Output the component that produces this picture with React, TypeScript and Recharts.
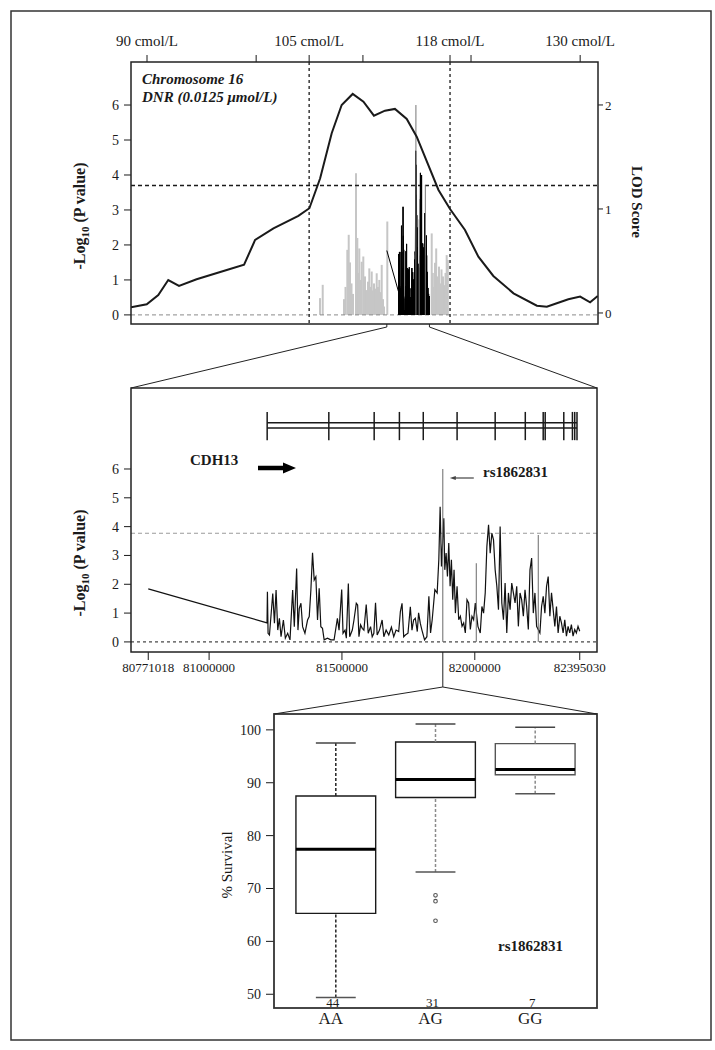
import React from 'react';
import {
  ComposedChart,
  Line,
  Scatter,
  XAxis,
  YAxis,
  ReferenceLine,
  ReferenceArea,
} from 'recharts';

const SERIF = "'Liberation Serif', 'Times New Roman', serif";
const INK = '#1a1a1a';

// ---- top panel: chromosome 16 scan (positions in bp) ----
const lodPos = [
  71020000, 71620000, 72060000, 72440000, 72850000, 73520000, 74670000, 75330000, 75750000,
  76450000, 77400000, 77820000, 78230000, 78670000, 79050000, 79470000, 79880000, 80280000,
  80700000, 81080000, 81530000, 81910000, 82740000, 83180000, 83750000, 84260000, 84830000,
  85600000, 86490000, 86870000, 87250000, 87690000, 88140000, 88520000, 88810000,
];
const lodScore = [
  0.055, 0.084, 0.173, 0.317, 0.26, 0.324, 0.413, 0.464, 0.702,
  0.814, 0.933, 1.007, 1.295, 1.728, 2.0, 2.106, 2.032, 1.897,
  1.945, 1.962, 1.865, 1.695, 1.183, 1.0, 0.798, 0.541, 0.356,
  0.189, 0.07, 0.06, 0.093, 0.132, 0.157, 0.103, 0.163,
];

// flanking SNPs outside CDH13 (grey bars)
const grayPos = [
  78224000, 78327000, 79139000, 79196000, 79265000, 79318000, 79367000, 79425000, 79482000,
  79596000, 79646000, 79684000, 79722000, 79768000, 79814000, 79875000, 79939000, 80004000,
  80053000, 80103000, 80149000, 80195000, 80244000, 80282000, 80332000, 80385000, 80434000,
  80484000, 80530000, 80576000, 80625000, 80663000, 80789000, 82482000, 82524000, 82569000,
  82608000, 82653000, 82703000, 82760000, 82806000, 82855000, 82912000, 82962000, 83008000,
  83053000, 83095000,
];
const grayP = [
  0.48, 0.86, 0.45, 0.8, 1.86, 2.29, 1.5, 0.9, 0.6,
  4.05, 2.2, 1.2, 1.9, 1.0, 1.52, 1.67, 1.1, 0.71,
  0.95, 1.33, 0.8, 1.24, 0.7, 0.9, 0.75, 1.19, 0.8,
  1.0, 0.65, 1.43, 0.45, 0.24, 2.67, 2.33, 1.2, 0.8,
  1.49, 1.9, 1.1, 1.38, 0.9, 1.3, 1.1, 0.85, 1.2,
  1.71, 1.57,
];

const topTicks = [71630000, 75790000, 77810000, 79860000, 83180000, 83980000, 88140000];
const topTickLabels = ['90 cmol/L', '', '105 cmol/L', '', '118 cmol/L', '', '130 cmol/L'];
const flankPos = [77810000, 83180000];

// ---- middle panel: CDH13 region ----
const snpPos = [
  80771018, 81218000, 81219500, 81222000, 81227200, 81239600, 81245900, 81252100, 81258400, 81264600,
  81270800, 81279600, 81287000, 81295800, 81304500, 81314500, 81320700, 81329500, 81334500, 81339400,
  81345700, 81351900, 81360700, 81370600, 81376900, 81383100, 81389300, 81395600, 81401800, 81408100,
  81414300, 81420500, 81426800, 81433000, 81445500, 81458000, 81470400, 81482900, 81489100, 81499100,
  81504100, 81511600, 81516600, 81524100, 81529100, 81539000, 81545300, 81554000, 81559000, 81564000,
  81570200, 81576500, 81582700, 81591400, 81598900, 81607700, 81613900, 81620100, 81626400, 81632600,
  81641300, 81651300, 81657600, 81666300, 81676300, 81686200, 81695000, 81703700, 81713700, 81719900,
  81726200, 81732400, 81738600, 81748600, 81757400, 81763600, 81769800, 81776100, 81783600, 81788500,
  81794800, 81801000, 81811000, 81819700, 81827200, 81833500, 81839700, 81849700, 81858400, 81864600,
  81869600, 81874600, 81883400, 81887100, 81892100, 81897100, 81902100, 81907100, 81912000, 81917000,
  81922000, 81927000, 81933300, 81939500, 81945700, 81952000, 81958200, 81964400, 81970700, 81976900,
  81983200, 81989400, 81995600, 82001900, 82011800, 82020600, 82026800, 82033100, 82039300, 82045500,
  82051800, 82058000, 82064200, 82070500, 82076700, 82083000, 82089200, 82095400, 82101700, 82107900,
  82114100, 82120400, 82126600, 82132900, 82139100, 82145300, 82151600, 82157800, 82164000, 82170300,
  82176500, 82182800, 82189000, 82195200, 82201500, 82207700, 82214000, 82220200, 82226400, 82232700,
  82245100, 82251400, 82257600, 82263800, 82270100, 82276300, 82282600, 82288800, 82295000, 82301300,
  82307500, 82313700, 82320000, 82326200, 82332500, 82338700, 82344900, 82351200, 82357400, 82363600,
  82369900, 82376100, 82382300, 82388600, 82395030,
];
const snpP = [
  1.84, 0.66, 1.74, 0.3, 0.24, 1.68, 0.65, 1.8, 0.41, 0.82,
  0.18, 0.76, 0.13, 0.3, 0.07, 1.8, 0.53, 2.55, 0.41, 1.16,
  1.34, 0.53, 0.3, 0.76, 0.88, 1.8, 3.09, 2.15, 2.26, 0.76,
  1.86, 0.53, 0.47, 0.07, 0.13, 0.07, 0.07, 0.82, 0.41, 1.82,
  0.3, 0.41, 0.13, 2.03, 0.18, 0.41, 0.76, 1.34, 1.28, 0.18,
  0.59, 0.47, 0.41, 1.3, 0.3, 0.53, 0.18, 0.3, 1.36, 0.24,
  0.41, 0.76, 0.18, 0.41, 0.24, 0.51, 0.18, 0.41, 0.36, 1.05,
  1.34, 0.18, 0.24, 0.3, 1.22, 0.41, 0.76, 0.82, 0.36, 1.01,
  0.65, 0.41, 0.07, 0.18, 1.58, 0.31, 0.77, 1.81, 1.7, 2.85,
  4.69, 2.62, 4.29, 2.5, 3.08, 2.27, 3.43, 1.93, 2.85, 1.46,
  2.5, 1.0, 1.93, 0.77, 0.89, 0.54, 0.66, 0.31, 1.46, 1.35,
  0.43, 0.89, 0.77, 1.35, 0.54, 0.31, 1.23, 1.0, 1.7, 3.31,
  4.06, 3.08, 3.77, 3.54, 2.5, 1.93, 1.12, 4.0, 1.35, 0.77,
  2.04, 0.31, 1.7, 1.12, 2.04, 1.7, 1.35, 1.93, 0.54, 1.7,
  1.46, 0.89, 1.81, 1.23, 0.43, 2.5, 2.91, 1.0, 1.7, 0.54,
  0.31, 1.23, 1.58, 1.0, 1.93, 2.27, 0.89, 1.7, 1.12, 0.54,
  1.23, 0.31, 0.89, 0.66, 0.31, 0.77, 0.2, 0.54, 0.31, 0.6,
  0.2, 0.43, 0.31, 0.54, 0.37,
];
// single grey spikes, first one is rs1862831
const spikePos = [81879600, 82005600, 82238900];
const spikeP = [6.0, 2.73, 3.71];
const exonPos = [
  81218563, 81450600, 81621300, 81716300, 81806100, 81933400, 82076700,
  82190100, 82257500, 82265000, 82335000, 82367500, 82376100, 82384700,
];
const midTicks = [80771018, 81000000, 81500000, 82000000, 82395030];

// ---- bottom panel: % survival by rs1862831 genotype ----
const genotypes = ['AA', 'AG', 'GG'];
const counts = [44, 31, 7];
const whiskerLow = [49.4, 73.1, 87.9];
const q1 = [65.3, 87.2, 91.5];
const median = [77.4, 90.6, 92.5];
const q3 = [87.5, 97.7, 97.4];
const whiskerHigh = [97.5, 101.1, 100.5];
const outlierGroup = [2, 2, 2];
const outlierVal = [68.7, 67.6, 63.9];

// plot boxes (pixels) and domains
const TOP = { left: 131, top: 62, w: 467, h: 262, x: [71020000, 88820000], y: [-0.26, 7.23], lod: [-0.106, 2.413] };
const MID = { left: 131, top: 388, w: 466, h: 264, x: [80706058, 82459990], y: [-0.35, 8.81] };
const BOX = { left: 274, top: 714, w: 323, h: 294, x: [0.38, 3.62], y: [47.4, 103.0] };

const sx = (P: { left: number; w: number; x: number[] }, v: number) =>
  P.left + ((v - P.x[0]) / (P.x[1] - P.x[0])) * P.w;

const lodData = lodPos.map((pos, i) => ({ pos, lod: lodScore[i] }));
const snpData = snpPos.map((pos, i) => ({ pos, p: snpP[i] }));
const outliers = outlierGroup.map((g, i) => ({ g, v: outlierVal[i] }));

const tickFont = (size: number) => ({ fontSize: size, fill: INK, fontFamily: SERIF });

const PTitle = ({ x, y }: { x: number; y: number }) => (
  <text
    transform={`translate(${x},${y}) rotate(-90)`}
    textAnchor="middle"
    fontFamily={SERIF}
    fontWeight="bold"
    fontSize={16}
    fill={INK}
  >
    -Log<tspan fontSize={11} dy={4}>10</tspan>
    <tspan dy={-4}>{' (P value)'}</tspan>
  </text>
);

const GenoTick = (props: any) => {
  const { x, y, payload } = props;
  const i = Math.round(payload.value) - 1;
  return (
    <g fontFamily={SERIF} fill={INK}>
      <text x={x - 3} y={y - 1} textAnchor="middle" fontSize={13}>
        {counts[i]}
      </text>
      <text x={x - 5} y={y + 16} textAnchor="middle" fontSize={17}>
        {genotypes[i]}
      </text>
    </g>
  );
};

function TopPanel() {
  return (
    <ComposedChart
      width={715}
      height={340}
      margin={{ top: TOP.top - 30, right: 715 - TOP.left - TOP.w - 30, bottom: 340 - TOP.top - TOP.h, left: TOP.left - 40 }}
    >
      <XAxis
        dataKey="pos"
        type="number"
        orientation="top"
        domain={TOP.x}
        allowDataOverflow
        ticks={topTicks}
        interval={0}
        tickFormatter={(v: number) => topTickLabels[topTicks.indexOf(v)] ?? ''}
        height={30}
        axisLine={false}
        tickSize={7}
        tickMargin={9}
        stroke={INK}
        tick={tickFont(15)}
      />
      <YAxis
        yAxisId="p"
        type="number"
        domain={TOP.y}
        allowDataOverflow
        ticks={[0, 1, 2, 3, 4, 5, 6]}
        interval={0}
        width={40}
        axisLine={false}
        tickSize={7}
        tickMargin={5}
        stroke={INK}
        tick={tickFont(14)}
      />
      <YAxis
        yAxisId="lod"
        orientation="right"
        type="number"
        domain={TOP.lod}
        allowDataOverflow
        ticks={[0, 1, 2]}
        interval={0}
        width={30}
        axisLine={false}
        tickSize={5}
        tickMargin={2}
        stroke={INK}
        tick={tickFont(13)}
      />
      {grayPos.map((x, i) => (
        <ReferenceLine
          key={`g${i}`}
          yAxisId="p"
          segment={[{ x, y: 0 }, { x, y: grayP[i] }]}
          stroke="#c6c6c6"
          strokeWidth={2}
        />
      ))}
      <ReferenceLine yAxisId="p" y={0} stroke="#8a8a8a" strokeDasharray="4 3" />
      <ReferenceLine yAxisId="p" y={3.7} stroke={INK} strokeDasharray="4 3" strokeWidth={1.3} />
      {flankPos.map((x) => (
        <ReferenceLine key={`f${x}`} yAxisId="p" x={x} stroke={INK} strokeDasharray="3 3" strokeWidth={1.3} />
      ))}
      {/* CDH13 SNPs squeezed into the chromosome view as h-type bars */}
      {snpPos.slice(1).map((x, i) => (
        <ReferenceLine
          key={`b${i}`}
          yAxisId="p"
          segment={[{ x, y: 0 }, { x, y: snpP[i + 1] }]}
          stroke="#000"
          strokeWidth={1}
        />
      ))}
      <Line
        yAxisId="p"
        data={snpData}
        dataKey="p"
        stroke="#000"
        strokeWidth={1}
        dot={false}
        activeDot={false}
        isAnimationActive={false}
      />
      {spikePos.map((x, i) => (
        <ReferenceLine key={`s${i}`} yAxisId="p" segment={[{ x, y: 0 }, { x, y: spikeP[i] }]} stroke="#777" strokeWidth={1} />
      ))}
      <Line
        yAxisId="lod"
        data={lodData}
        dataKey="lod"
        stroke={INK}
        strokeWidth={2}
        dot={false}
        activeDot={false}
        isAnimationActive={false}
      />
    </ComposedChart>
  );
}

function MiddlePanel() {
  const g0 = exonPos[0];
  const g1 = exonPos[exonPos.length - 1];
  return (
    <ComposedChart
      width={715}
      height={310}
      margin={{ top: MID.top - 370, right: 715 - MID.left - MID.w, bottom: 680 - MID.top - MID.h - 28, left: MID.left - 40 }}
    >
      <XAxis
        dataKey="pos"
        type="number"
        domain={MID.x}
        allowDataOverflow
        ticks={midTicks}
        interval={0}
        height={28}
        axisLine={false}
        tickSize={8}
        tickMargin={3}
        stroke={INK}
        tick={tickFont(13)}
      />
      <YAxis
        type="number"
        domain={MID.y}
        allowDataOverflow
        ticks={[0, 1, 2, 3, 4, 5, 6]}
        interval={0}
        width={40}
        axisLine={false}
        tickSize={7}
        tickMargin={5}
        stroke={INK}
        tick={tickFont(14)}
      />
      <ReferenceLine y={3.77} stroke="#9a9a9a" strokeDasharray="4 3" />
      <ReferenceLine y={0} stroke={INK} strokeDasharray="3 3" />
      <ReferenceLine segment={[{ x: g0, y: 7.6 }, { x: g1, y: 7.6 }]} stroke={INK} strokeWidth={1.5} />
      <ReferenceLine segment={[{ x: g0, y: 7.42 }, { x: g1, y: 7.42 }]} stroke={INK} strokeWidth={1.5} />
      {exonPos.map((x, i) => (
        <ReferenceLine key={`e${i}`} segment={[{ x, y: 7.0 }, { x, y: 7.98 }]} stroke={INK} strokeWidth={1.5} />
      ))}
      <Line
        data={snpData}
        dataKey="p"
        stroke="#111"
        strokeWidth={1.2}
        dot={false}
        activeDot={false}
        isAnimationActive={false}
      />
      {spikePos.map((x, i) => (
        <ReferenceLine key={`s${i}`} segment={[{ x, y: 0 }, { x, y: spikeP[i] }]} stroke="#6a6a6a" strokeWidth={1} />
      ))}
    </ComposedChart>
  );
}

function BoxPanel() {
  const HALF = 0.4;
  const CAP = 0.2;
  return (
    <ComposedChart
      width={715}
      height={350}
      margin={{ top: BOX.top - 690, right: 715 - BOX.left - BOX.w, bottom: 1040 - BOX.top - BOX.h - 30, left: BOX.left - 40 }}
    >
      <XAxis
        dataKey="g"
        type="number"
        domain={BOX.x}
        allowDataOverflow
        ticks={[1, 2, 3]}
        interval={0}
        height={30}
        axisLine={false}
        tickLine={false}
        tickSize={0}
        tickMargin={0}
        tick={(p: any) => <GenoTick {...p} />}
      />
      <YAxis
        type="number"
        domain={BOX.y}
        allowDataOverflow
        ticks={[50, 60, 70, 80, 90, 100]}
        interval={0}
        width={40}
        axisLine={false}
        tickSize={8}
        tickMargin={5}
        stroke={INK}
        tick={tickFont(14)}
      />
      {genotypes.map((name, i) => {
        const g = i + 1;
        const wc = i === 0 ? '#222' : '#8a8a8a';
        return (
          <React.Fragment key={name}>
            <ReferenceLine segment={[{ x: g, y: whiskerLow[i] }, { x: g, y: q1[i] }]} stroke={wc} strokeWidth={1.5} strokeDasharray="3 2" />
            <ReferenceLine segment={[{ x: g, y: q3[i] }, { x: g, y: whiskerHigh[i] }]} stroke={wc} strokeWidth={1.5} strokeDasharray="3 2" />
            <ReferenceLine segment={[{ x: g - CAP, y: whiskerLow[i] }, { x: g + CAP, y: whiskerLow[i] }]} stroke="#555" strokeWidth={1.5} />
            <ReferenceLine segment={[{ x: g - CAP, y: whiskerHigh[i] }, { x: g + CAP, y: whiskerHigh[i] }]} stroke="#444" strokeWidth={1.5} />
            <ReferenceArea
              x1={g - HALF}
              x2={g + HALF}
              y1={q1[i]}
              y2={q3[i]}
              fill="#fff"
              fillOpacity={1}
              stroke={i === 2 ? '#555' : INK}
              strokeWidth={1.4}
            />
            <ReferenceLine segment={[{ x: g - HALF, y: median[i] }, { x: g + HALF, y: median[i] }]} stroke="#000" strokeWidth={3} />
          </React.Fragment>
        );
      })}
      <Scatter
        data={outliers}
        dataKey="v"
        isAnimationActive={false}
        shape={(p: any) => <circle cx={p.cx} cy={p.cy} r={1.8} fill="none" stroke="#555" strokeWidth={1.1} />}
      />
    </ComposedChart>
  );
}

export default function App() {
  const a = sx(TOP, snpPos[0]);
  const b = sx(TOP, snpPos[snpPos.length - 1]);
  const topBottom = TOP.top + TOP.h;
  const rsX = sx(MID, spikePos[0]);
  const midBottom = MID.top + MID.h;
  const apexY = 687;
  return (
    <div style={{ position: 'absolute', left: 0, top: 0, width: 715, height: 1050, background: '#fff', fontFamily: SERIF }}>
      <div style={{ position: 'absolute', left: 0, top: 0 }}>
        <TopPanel />
      </div>
      <div style={{ position: 'absolute', left: 0, top: 370 }}>
        <MiddlePanel />
      </div>
      <div style={{ position: 'absolute', left: 0, top: 690 }}>
        <BoxPanel />
      </div>
      <svg width={715} height={1050} style={{ position: 'absolute', left: 0, top: 0, pointerEvents: 'none' }}>
        <rect x={11} y={11} width={700} height={1029} fill="none" stroke="#333" strokeWidth={1.5} />
        <rect x={TOP.left} y={TOP.top} width={TOP.w} height={TOP.h} fill="none" stroke="#222" strokeWidth={1.5} />
        <rect x={MID.left} y={MID.top} width={MID.w} height={MID.h} fill="none" stroke="#222" strokeWidth={1.5} />
        <rect x={BOX.left} y={BOX.top} width={BOX.w} height={BOX.h} fill="none" stroke="#333" strokeWidth={1.8} />

        {/* zoom connectors */}
        <polyline points={`${a},${topBottom} ${a},${topBottom + 3} ${MID.left},${MID.top}`} fill="none" stroke="#222" strokeWidth={1} />
        <polyline points={`${b},${topBottom} ${b},${topBottom + 3} ${MID.left + MID.w},${MID.top}`} fill="none" stroke="#222" strokeWidth={1} />
        <polyline points={`${BOX.left},${BOX.top} ${rsX},${apexY} ${BOX.left + BOX.w},${BOX.top}`} fill="none" stroke="#222" strokeWidth={1} />
        <line x1={rsX} y1={midBottom} x2={rsX} y2={apexY} stroke="#222" strokeWidth={1} />

        {/* top panel annotations */}
        <g fontFamily={SERIF} fontWeight="bold" fontStyle="italic" fontSize={15} fill={INK}>
          <text x={142} y={84}>Chromosome 16</text>
          <text x={142} y={102}>DNR (0.0125 μmol/L)</text>
        </g>
        <PTitle x={85} y={216} />
        <text
          transform="translate(632,202) rotate(90)"
          textAnchor="middle"
          fontFamily={SERIF}
          fontWeight="bold"
          fontSize={15}
          fill={INK}
        >
          LOD Score
        </text>

        {/* middle panel annotations */}
        <PTitle x={85} y={563} />
        <text x={190} y={465} fontFamily={SERIF} fontWeight="bold" fontSize={15} fill={INK}>
          CDH13
        </text>
        <path d="M258,465.8 L283,465.8 L283,462.5 L296,468 L283,473.5 L283,470.2 L258,470.2 Z" fill="#000" />
        <text x={483} y={477} fontFamily={SERIF} fontWeight="bold" fontSize={15} fill={INK}>
          rs1862831
        </text>
        <line x1={rsX + 12} y1={478} x2={rsX + 31} y2={478} stroke="#444" strokeWidth={1.2} />
        <path d={`M${rsX + 7},478 L${rsX + 13},476 L${rsX + 13},480 Z`} fill="#444" />

        {/* box panel annotations */}
        <text
          transform="translate(232,865) rotate(-90)"
          textAnchor="middle"
          fontFamily={SERIF}
          fontSize={15}
          fill={INK}
        >
          % Survival
        </text>
        <text x={498} y={951} fontFamily={SERIF} fontWeight="bold" fontSize={15} fill={INK}>
          rs1862831
        </text>
      </svg>
    </div>
  );
}
